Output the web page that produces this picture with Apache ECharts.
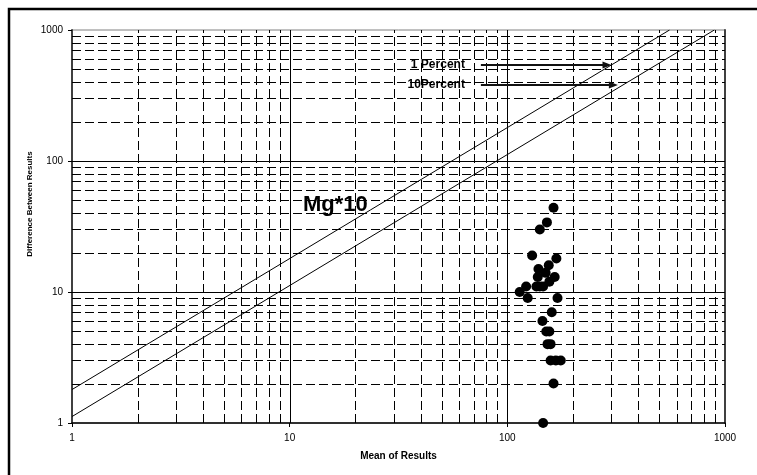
<!DOCTYPE html>
<html>
<head>
<meta charset="utf-8">
<script src="https://cdn.jsdelivr.net/npm/echarts@6/dist/echarts.min.js"></script>
<style>
  html, body { margin: 0; padding: 0; background: #fff; }
  #chart { width: 757px; height: 475px; }
</style>
</head>
<body>
<div id="chart"></div>
<script>
// Duplicate determinations: mean of the pair vs. difference between them
const meanOfResults = [163, 152, 141, 130, 168, 139, 155, 150, 138, 165, 156, 122, 136, 141, 146,
  114, 124, 170, 160, 145, 151, 156, 153, 158, 158, 167, 176, 163, 146];
const diffBetweenResults = [44, 34, 30, 19, 18, 15, 16, 14, 13, 13, 12, 11, 11, 11, 11,
  10, 9, 9, 7, 6, 5, 5, 4, 4, 3, 3, 3, 2, 1];

// Limit lines (difference against mean), end points on the plot frame
const onePercentLine = [[1, 1.8], [556, 1000]];
const tenPercentLine = [[1, 1.12], [893, 1000]];

// Axis decades and the in-decade grid positions
const decadeTicks = [1, 10, 100, 1000];
const majorGrid = [10, 100];
const minorGrid = [];
for (const d of [1, 10, 100]) for (let m = 2; m <= 9; m++) minorGrid.push(m * d);

// Arrow annotations pointing at the limit lines
const arrowNames = ['1 Percent', '10Percent'];
const arrowFrom = [[75.6, 540], [75.6, 382]];
const arrowTo = [[301, 540], [322, 382]];

const FONT = '"Liberation Sans", Arial, Helvetica, sans-serif';

// Crisp vertical / horizontal grid line drawn through the axis scales
function gridRenderer(vertical, dashed) {
  return function (params, api) {
    const v = api.value(vertical ? 0 : 1);
    let shape;
    if (vertical) {
      const a = api.coord([v, 1]);
      const b = api.coord([v, 1000]);
      const x = Math.round(a[0]) + 0.5;
      shape = { x1: x, y1: a[1], x2: x, y2: b[1] };
    } else {
      const a = api.coord([1, v]);
      const b = api.coord([1000, v]);
      const y = Math.round(a[1]) + 0.5;
      shape = { x1: a[0], y1: y, x2: b[0], y2: y };
    }
    return {
      type: 'line',
      shape: shape,
      style: { stroke: '#000', lineWidth: 1, lineDash: dashed ? [9, 4] : null }
    };
  };
}

// Labelled arrow: text, shaft and head, placed in data coordinates
function arrowRenderer(params, api) {
  const p0 = api.coord([api.value(0), api.value(1)]);
  const p1 = api.coord([api.value(2), api.value(3)]);
  const y = Math.round(p0[1]);
  const head = 9;
  return {
    type: 'group',
    children: [
      {
        type: 'line',
        shape: { x1: p0[0], y1: y, x2: p1[0] - head + 1, y2: y },
        style: { stroke: '#111', lineWidth: 2 }
      },
      {
        type: 'polygon',
        shape: { points: [[p1[0], y], [p1[0] - head, y - 3.5], [p1[0] - head, y + 3.5]] },
        style: { fill: '#111' }
      },
      {
        type: 'text',
        x: p0[0] - 16, y: y,
        style: {
          text: arrowNames[params.dataIndex], font: 'bold 12px ' + FONT,
          fill: '#000', align: 'right', verticalAlign: 'middle'
        }
      }
    ]
  };
}

const labelFmt = (v) => String(Math.round(v));

const chart = echarts.init(document.getElementById('chart'));
chart.setOption({
  animation: false,
  backgroundColor: '#fff',
  textStyle: { fontFamily: FONT },
  grid: {
    left: 72, right: 32, top: 30, bottom: 52,
    show: true, borderColor: '#808080', borderWidth: 1, backgroundColor: 'transparent'
  },
  xAxis: {
    type: 'log', logBase: 10, min: 1, max: 1000,
    name: 'Mean of Results', nameLocation: 'middle', nameGap: 28,
    nameTextStyle: { fontFamily: FONT, fontWeight: 'bold', fontSize: 10, color: '#000' },
    axisLine: { show: true, lineStyle: { color: '#000', width: 1.5 } },
    axisTick: { show: true, length: 4, lineStyle: { color: '#000' } },
    axisLabel: { fontFamily: FONT, fontSize: 10, color: '#000', margin: 10, formatter: labelFmt },
    splitLine: { show: false }
  },
  yAxis: [{
    type: 'log', logBase: 10, min: 1, max: 1000,
    axisLine: { show: true, lineStyle: { color: '#404040', width: 2 } },
    axisTick: { show: true, length: 4, lineStyle: { color: '#000' } },
    axisLabel: { fontFamily: FONT, fontSize: 10, color: '#000', margin: 9, formatter: labelFmt },
    splitLine: { show: false }
  }, {
    type: 'log', logBase: 10, min: 1, max: 1000, position: 'right',
    axisLine: { show: true, lineStyle: { color: '#404040', width: 2 } },
    axisTick: { show: false }, axisLabel: { show: false }, splitLine: { show: false }
  }],
  graphic: [
    {
      type: 'rect', silent: true, z: 100,
      shape: { x: 9, y: 9, width: 800, height: 600 },
      style: { fill: 'none', stroke: '#000', lineWidth: 2.5 }
    },
    {
      type: 'text', left: 303, top: 194, z: 50,
      style: { text: 'Mg*10', font: 'bold 22px ' + FONT, fill: '#000' }
    },
    {
      // vertical axis title
      type: 'text', x: 30, y: 204, rotation: Math.PI / 2, z: 50,
      style: {
        text: 'Difference Between Results', font: 'bold 8px ' + FONT,
        fill: '#000', align: 'center', verticalAlign: 'middle'
      }
    }
  ],
  series: [
    {
      type: 'custom', name: 'minorX', silent: true, z: 1,
      renderItem: gridRenderer(true, true),
      data: minorGrid.map(v => [v, 1])
    },
    {
      type: 'custom', name: 'minorY', silent: true, z: 1,
      renderItem: gridRenderer(false, true),
      data: minorGrid.map(v => [1, v])
    },
    {
      type: 'custom', name: 'majorX', silent: true, z: 1,
      renderItem: gridRenderer(true, false),
      data: majorGrid.map(v => [v, 1])
    },
    {
      type: 'custom', name: 'majorY', silent: true, z: 1,
      renderItem: gridRenderer(false, false),
      data: majorGrid.map(v => [1, v])
    },
    {
      type: 'line', name: '1 Percent', symbol: 'none', z: 3, silent: true,
      lineStyle: { color: '#000', width: 1 },
      data: onePercentLine
    },
    {
      type: 'line', name: '10Percent', symbol: 'none', z: 3, silent: true,
      lineStyle: { color: '#000', width: 1 },
      data: tenPercentLine
    },
    {
      type: 'custom', name: 'arrows', silent: true, z: 4,
      encode: { x: [0, 2], y: [1, 3] },
      renderItem: arrowRenderer,
      data: arrowFrom.map((f, i) => [f[0], f[1], arrowTo[i][0], arrowTo[i][1]])
    },
    {
      type: 'scatter', name: 'Mg*10', z: 5, silent: true,
      symbol: 'circle', symbolSize: 10,
      itemStyle: { color: '#000', opacity: 1 },
      data: meanOfResults.map((m, i) => [m, diffBetweenResults[i]])
    }
  ]
});
</script>
</body>
</html>
